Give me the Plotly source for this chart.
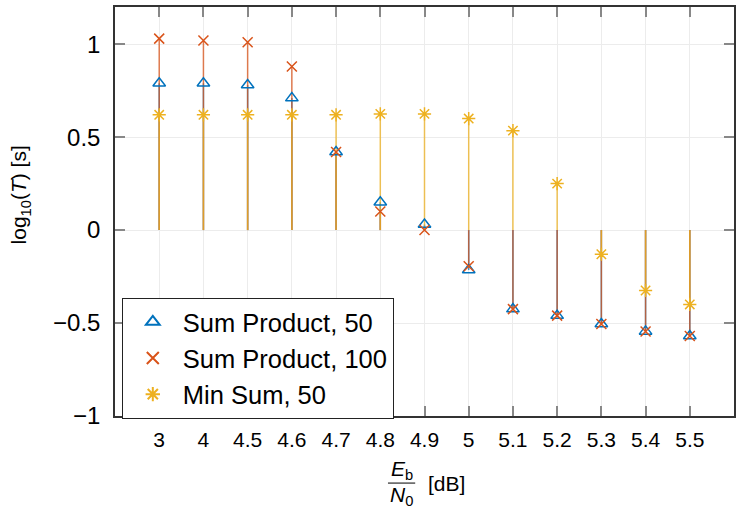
import plotly.graph_objects as go

categories = ["3", "4", "4.5", "4.6", "4.7", "4.8", "4.9", "5", "5.1", "5.2", "5.3", "5.4", "5.5"]
sum_product_50 = [0.79, 0.79, 0.78, 0.71, 0.42, 0.15, 0.03, -0.215, -0.425, -0.46, -0.505, -0.545, -0.57]
sum_product_100 = [1.03, 1.02, 1.01, 0.88, 0.42, 0.10, 0.0, -0.195, -0.425, -0.46, -0.505, -0.545, -0.57]
min_sum_50 = [0.62, 0.62, 0.62, 0.62, 0.62, 0.625, 0.625, 0.60, 0.535, 0.25, -0.13, -0.325, -0.40]

series = [
    ("Sum Product, 50", sum_product_50, "#0072BD", "triangle-up-open", 11),
    ("Sum Product, 100", sum_product_100, "#D95319", "x-thin-open", 10),
    ("Min Sum, 50", min_sum_50, "#EDB120", "asterisk-open", 11),
]

FONT = "Liberation Sans"
fig = go.Figure()

# stems
for name, vals, color, sym, size in series:
    xs, ys = [], []
    for c, v in zip(categories, vals):
        xs += [c, c, None]
        ys += [0, v, None]
    fig.add_trace(go.Scatter(x=xs, y=ys, mode="lines", line=dict(color=color, width=1.5),
                             opacity=0.75, showlegend=False, hoverinfo="skip"))

# markers
for name, vals, color, sym, size in series:
    fig.add_trace(go.Scatter(x=categories, y=vals, mode="markers", name=name,
                             marker=dict(symbol=sym, size=size, color=color,
                                         line=dict(color=color, width=1.5))))

fig.update_layout(
    width=736, height=508,
    margin=dict(l=115, r=0, t=7, b=92),
    paper_bgcolor="white", plot_bgcolor="white",
    font=dict(family=FONT, size=20, color="black"),
    legend=dict(x=0.011, y=0.289, xanchor="left", yanchor="top",
                bgcolor="white", bordercolor="#222", borderwidth=1,
                font=dict(family=FONT, size=25.5), itemsizing="constant",
                itemwidth=50, tracegroupgap=0),
)
fig.update_xaxes(
    type="category", categoryorder="array", categoryarray=categories,
    range=[-1, 13], showgrid=True, gridcolor="#ececec", gridwidth=1,
    showline=True, linecolor="#333", linewidth=1.5, mirror="ticks",
    ticks="inside", ticklen=10, tickcolor="#888", tickwidth=1.5,
    tickfont=dict(family=FONT, size=21), zeroline=False, ticklabelstandoff=4,
)
fig.update_yaxes(
    range=[-1, 1.2], tickvals=[-1, -0.5, 0, 0.5, 1], ticktext=["\u22121", "\u22120.5", "0", "0.5", "1"],
    showgrid=True, gridcolor="#ececec", gridwidth=1,
    showline=True, linecolor="#333", linewidth=1.5, mirror="ticks",
    ticks="inside", ticklen=10, tickcolor="#888", tickwidth=1.5,
    tickfont=dict(family=FONT, size=24), zeroline=False, ticklabelstandoff=8,
)

# axis titles
fig.add_annotation(xref="paper", yref="paper", x=-0.153, y=0.54, xanchor="center", yanchor="middle",
                   text="log<sub>10</sub>(<i>T</i>) [s]",
                   textangle=-90, showarrow=False, font=dict(family=FONT, size=21))
fig.add_annotation(xref="paper", yref="paper", x=0.463, y=-0.132, xanchor="center", yanchor="middle",
                   text="<i>E</i><sub>b</sub>", showarrow=False, font=dict(family=FONT, size=21))
fig.add_annotation(xref="paper", yref="paper", x=0.463, y=-0.196, xanchor="center", yanchor="middle",
                   text="<i>N</i><sub>0</sub>", showarrow=False, font=dict(family=FONT, size=21))
fig.add_annotation(xref="paper", yref="paper", x=0.535, y=-0.164, xanchor="center", yanchor="middle",
                   text="[dB]", showarrow=False, font=dict(family=FONT, size=21))
fig.add_shape(type="line", xref="paper", yref="paper", x0=0.441, x1=0.485, y0=-0.164, y1=-0.164,
              line=dict(color="black", width=1))

fig.write_html("out.html")
